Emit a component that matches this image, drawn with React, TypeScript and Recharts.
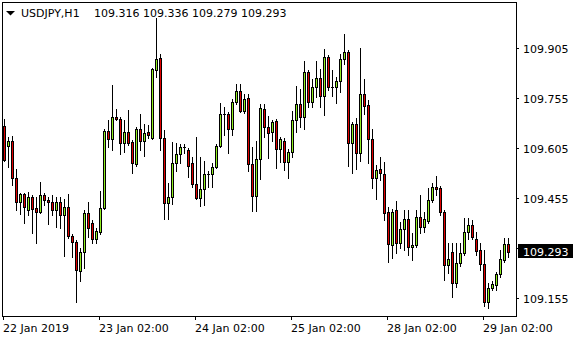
import React from "react";
import { ComposedChart, Bar, XAxis, YAxis } from "recharts";

const symbolLabel = "USDJPY,H1";
const headerValues = "109.316 109.336 109.279 109.293";

const openPrices = [
  109.671, 109.611, 109.626, 109.515, 109.443, 109.467, 109.419, 109.458, 109.425, 109.413,
  109.464, 109.449, 109.443, 109.419, 109.443, 109.404, 109.428, 109.341, 109.323, 109.236,
  109.293, 109.410, 109.380, 109.332, 109.353, 109.425, 109.656, 109.632, 109.698, 109.692,
  109.620, 109.653, 109.623, 109.557, 109.662, 109.626, 109.653, 109.635, 109.839, 109.875,
  109.635, 109.440, 109.458, 109.560, 109.587, 109.608, 109.599, 109.560, 109.497, 109.455,
  109.482, 109.527, 109.527, 109.548, 109.611, 109.707, 109.707, 109.662, 109.743, 109.776,
  109.716, 109.755, 109.557, 109.461, 109.572, 109.722, 109.668, 109.653, 109.686, 109.602,
  109.626, 109.563, 109.593, 109.689, 109.737, 109.698, 109.833, 109.743, 109.788, 109.815,
  109.761, 109.878, 109.788, 109.788, 109.806, 109.872, 109.893, 109.620, 109.677, 109.590,
  109.767, 109.734, 109.632, 109.515, 109.542, 109.527, 109.413, 109.314, 109.419, 109.320,
  109.362, 109.392, 109.308, 109.314, 109.398, 109.368, 109.386, 109.449, 109.488, 109.485,
  109.413, 109.254, 109.293, 109.200, 109.260, 109.290, 109.353, 109.374, 109.332, 109.299,
  109.257, 109.143, 109.185, 109.194, 109.227, 109.269, 109.316,
];
const highPrices = [
  109.692, 109.638, 109.641, 109.542, 109.470, 109.470, 109.473, 109.464, 109.458, 109.503,
  109.470, 109.458, 109.464, 109.458, 109.458, 109.452, 109.467, 109.347, 109.329, 109.305,
  109.419, 109.443, 109.389, 109.365, 109.476, 109.662, 109.689, 109.794, 109.722, 109.698,
  109.689, 109.719, 109.629, 109.668, 109.707, 109.677, 109.674, 109.845, 109.995, 109.887,
  109.659, 109.500, 109.623, 109.620, 109.617, 109.617, 109.605, 109.578, 109.638, 109.578,
  109.566, 109.536, 109.560, 109.617, 109.740, 109.728, 109.713, 109.752, 109.797, 109.797,
  109.767, 109.767, 109.608, 109.626, 109.737, 109.737, 109.701, 109.689, 109.692, 109.638,
  109.635, 109.602, 109.716, 109.791, 109.782, 109.866, 109.839, 109.812, 109.866, 109.842,
  109.902, 109.884, 109.839, 109.818, 109.887, 109.947, 109.899, 109.683, 109.695, 109.905,
  109.812, 109.749, 109.662, 109.554, 109.578, 109.563, 109.428, 109.422, 109.446, 109.383,
  109.419, 109.419, 109.350, 109.419, 109.464, 109.413, 109.485, 109.500, 109.521, 109.491,
  109.419, 109.320, 109.320, 109.320, 109.320, 109.395, 109.395, 109.389, 109.353, 109.320,
  109.299, 109.200, 109.206, 109.233, 109.299, 109.335, 109.336,
];
const lowPrices = [
  109.566, 109.548, 109.494, 109.419, 109.407, 109.380, 109.404, 109.350, 109.320, 109.410,
  109.434, 109.377, 109.404, 109.368, 109.365, 109.281, 109.335, 109.278, 109.143, 109.206,
  109.245, 109.338, 109.320, 109.320, 109.347, 109.422, 109.608, 109.599, 109.689, 109.587,
  109.593, 109.614, 109.530, 109.551, 109.599, 109.581, 109.635, 109.632, 109.818, 109.599,
  109.392, 109.392, 109.437, 109.536, 109.560, 109.590, 109.518, 109.488, 109.452, 109.431,
  109.434, 109.488, 109.488, 109.545, 109.608, 109.644, 109.590, 109.644, 109.737, 109.713,
  109.710, 109.536, 109.416, 109.416, 109.512, 109.638, 109.575, 109.626, 109.545, 109.563,
  109.539, 109.515, 109.578, 109.653, 109.668, 109.662, 109.728, 109.728, 109.758, 109.728,
  109.704, 109.779, 109.761, 109.740, 109.773, 109.857, 109.551, 109.530, 109.542, 109.566,
  109.707, 109.560, 109.485, 109.452, 109.509, 109.389, 109.263, 109.275, 109.290, 109.305,
  109.299, 109.284, 109.269, 109.308, 109.350, 109.353, 109.380, 109.443, 109.464, 109.404,
  109.209, 109.230, 109.158, 109.188, 109.251, 109.284, 109.332, 109.332, 109.284, 109.239,
  109.131, 109.125, 109.179, 109.179, 109.218, 109.263, 109.279,
];
const closePrices = [
  109.569, 109.626, 109.515, 109.443, 109.467, 109.428, 109.458, 109.422, 109.413, 109.464,
  109.449, 109.443, 109.419, 109.443, 109.404, 109.428, 109.341, 109.323, 109.239, 109.293,
  109.410, 109.365, 109.332, 109.356, 109.425, 109.656, 109.632, 109.698, 109.692, 109.620,
  109.653, 109.620, 109.560, 109.662, 109.626, 109.650, 109.644, 109.842, 109.872, 109.635,
  109.440, 109.458, 109.560, 109.587, 109.608, 109.608, 109.551, 109.497, 109.455, 109.482,
  109.527, 109.527, 109.548, 109.611, 109.707, 109.707, 109.662, 109.743, 109.776, 109.716,
  109.752, 109.557, 109.461, 109.572, 109.725, 109.668, 109.650, 109.683, 109.602, 109.632,
  109.563, 109.593, 109.689, 109.737, 109.698, 109.833, 109.743, 109.788, 109.815, 109.761,
  109.878, 109.788, 109.788, 109.806, 109.872, 109.893, 109.620, 109.677, 109.590, 109.767,
  109.731, 109.632, 109.515, 109.539, 109.530, 109.410, 109.317, 109.413, 109.320, 109.362,
  109.392, 109.308, 109.314, 109.398, 109.368, 109.392, 109.449, 109.488, 109.482, 109.413,
  109.254, 109.272, 109.200, 109.260, 109.290, 109.353, 109.374, 109.338, 109.296, 109.257,
  109.143, 109.185, 109.197, 109.227, 109.272, 109.317, 109.293,
];

const timeTickIndex = [0, 24, 48, 72, 96, 120];
const timeTickLabels = ["22 Jan 2019", "23 Jan 02:00", "24 Jan 02:00", "25 Jan 02:00", "28 Jan 02:00", "29 Jan 02:00"];
const priceTicks = [109.155, 109.305, 109.455, 109.605, 109.755, 109.905];
const priceDomain: [number, number] = [109.0995, 110.0415];

const BULL = "#90EE20";
const BEAR = "#E00000";
const FONT = "DejaVu Sans";

const lastClose = closePrices[closePrices.length - 1];

const data = openPrices.map((o, i) => ({
  idx: i,
  o,
  h: highPrices[i],
  l: lowPrices[i],
  c: closePrices[i],
  range: [lowPrices[i], highPrices[i]],
}));

const Candle = (props: any) => {
  const { x, y, width, height, payload } = props;
  if (x == null || y == null) return null;
  const { o, h, l, c } = payload;
  const top = Math.min(y, y + height);
  const bot = Math.max(y, y + height);
  const ppu = h === l ? 0 : (bot - top) / (h - l);
  const yOf = (v: number) => top + (h - v) * ppu;
  const cx = Math.floor(x + width / 2 + 0.01) + 0.5;
  const hiY = Math.round(yOf(h));
  const loY = Math.round(yOf(l));
  const bTop = Math.round(yOf(Math.max(o, c)));
  const bBot = Math.round(yOf(Math.min(o, c)));
  const bull = c >= o;
  const inner = bBot - bTop - 1;
  return (
    <g>
      <line x1={cx} x2={cx} y1={hiY} y2={loY + 1} stroke="#000" strokeWidth={1} shapeRendering="crispEdges" />
      <rect x={cx - 1.5} y={bTop} width={3} height={Math.max(1, bBot - bTop + 1)} fill="#000" shapeRendering="crispEdges" />
      {inner > 0 && (
        <rect x={cx - 0.5} y={bTop + 1} width={1} height={inner} fill={bull ? BULL : BEAR} shapeRendering="crispEdges" />
      )}
    </g>
  );
};

const TimeTick = (props: any) => {
  const { x, payload } = props;
  const k = timeTickIndex.indexOf(Number(payload.value));
  if (k < 0) return null;
  const cx = Math.floor(x + 0.01) + 0.5;
  return (
    <g>
      <line x1={cx} x2={cx} y1={317} y2={320} stroke="#000" shapeRendering="crispEdges" />
      <text x={cx - 0.5} y={331.5} fontSize={11} fontFamily={FONT} fill="#000">
        {timeTickLabels[k]}
      </text>
    </g>
  );
};

const PriceTick = (props: any) => {
  const { y, payload } = props;
  const v = Number(payload.value);
  const yy = Math.floor(y + 0.01) + 0.5;
  if (v === lastClose) {
    const top = Math.round(y) - 8;
    return (
      <g>
        <rect x={518} y={top} width={55} height={14} fill="#000" />
        <text x={523} y={top + 12} fontSize={11} fontFamily={FONT} fill="#fff">
          {v.toFixed(3)}
        </text>
      </g>
    );
  }
  return (
    <g>
      <line x1={517} x2={519} y1={yy} y2={yy} stroke="#000" shapeRendering="crispEdges" />
      <text x={523} y={yy + 4} fontSize={11} fontFamily={FONT} fill="#000">
        {v.toFixed(3)}
      </text>
    </g>
  );
};

export default function App() {
  return (
    <div style={{ position: "absolute", left: 0, top: 0, width: 580, height: 340, background: "#fff" }}>
      <ComposedChart
        width={580}
        height={340}
        data={data}
        margin={{ top: 2.5, left: 1.5, right: 10.5, bottom: 0 }}
      >
        <XAxis
          dataKey="idx"
          type="category"
          ticks={timeTickIndex}
          interval={0}
          axisLine={false}
          tickLine={false}
          height={23.5}
          tick={<TimeTick />}
        />
        <YAxis
          orientation="right"
          type="number"
          domain={priceDomain}
          allowDataOverflow
          ticks={[...priceTicks, lastClose]}
          interval={0}
          axisLine={false}
          tickLine={false}
          width={60}
          tick={<PriceTick />}
        />
        <Bar dataKey="range" barSize={3} shape={<Candle />} isAnimationActive={false} />
      </ComposedChart>
      <svg width={580} height={340} style={{ position: "absolute", left: 0, top: 0, pointerEvents: "none" }}>
        <rect x={2.5} y={2.5} width={514} height={314} fill="none" stroke="#000" strokeWidth={1} shapeRendering="crispEdges" />
        <polygon points="6,11 15,11 10.5,15.5" fill="#000" />
        <text x={21} y={17} fontSize={11} fontFamily={FONT} fill="#000">{symbolLabel}</text>
        <text x={94} y={17} fontSize={11} fontFamily={FONT} fill="#000">{headerValues}</text>
      </svg>
    </div>
  );
}
